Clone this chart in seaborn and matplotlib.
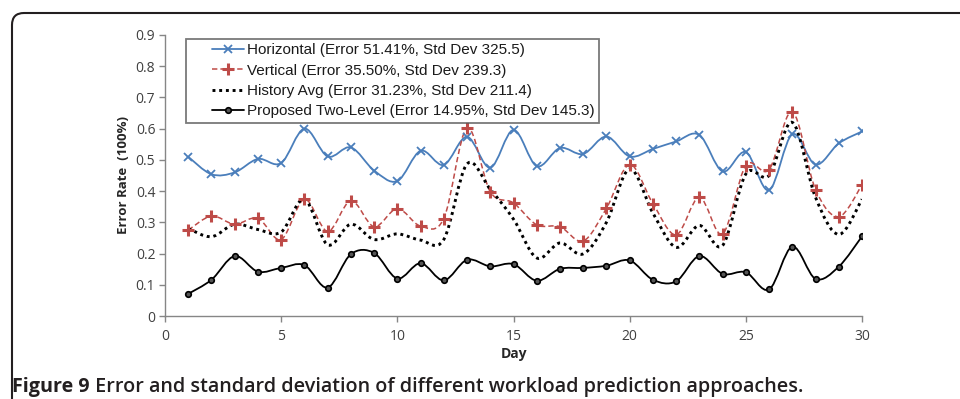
import numpy as np
import pandas as pd
import matplotlib
matplotlib.use("Agg")
import matplotlib.pyplot as plt
import seaborn as sns
from matplotlib.path import Path
from matplotlib.patches import PathPatch, FancyBboxPatch
from matplotlib.lines import Line2D
from matplotlib.legend_handler import HandlerLine2D

days = list(range(1, 31))
horizontal = [0.51, 0.454, 0.46, 0.503, 0.49, 0.60, 0.511, 0.54, 0.466, 0.432,
              0.529, 0.484, 0.574, 0.475, 0.596, 0.48, 0.538, 0.519, 0.575, 0.511,
              0.535, 0.559, 0.58, 0.463, 0.525, 0.403, 0.582, 0.485, 0.553, 0.591]
vertical = [0.275, 0.32, 0.294, 0.313, 0.245, 0.374, 0.271, 0.369, 0.286, 0.344,
            0.288, 0.312, 0.602, 0.398, 0.362, 0.292, 0.286, 0.24, 0.345, 0.485,
            0.36, 0.26, 0.38, 0.263, 0.482, 0.469, 0.654, 0.405, 0.318, 0.42]
history = [0.28, 0.254, 0.294, 0.277, 0.269, 0.374, 0.228, 0.294, 0.245, 0.263,
           0.243, 0.245, 0.487, 0.406, 0.31, 0.186, 0.234, 0.199, 0.30, 0.471,
           0.33, 0.22, 0.29, 0.226, 0.455, 0.45, 0.62, 0.38, 0.261, 0.374]
proposed = [0.071, 0.116, 0.192, 0.142, 0.154, 0.163, 0.091, 0.198, 0.202, 0.12,
            0.169, 0.114, 0.18, 0.159, 0.166, 0.113, 0.151, 0.154, 0.161, 0.178,
            0.116, 0.111, 0.192, 0.135, 0.14, 0.085, 0.222, 0.119, 0.158, 0.255]
labels = ["Horizontal (Error 51.41%, Std Dev 325.5)",
          "Vertical (Error 35.50%, Std Dev 239.3)",
          "History Avg (Error 31.23%, Std Dev 211.4)",
          "Proposed Two-Level (Error 14.95%, Std Dev 145.3)"]
x_ticks = [0, 5, 10, 15, 20, 25, 30]
y_ticks = [0, 0.1, 0.2, 0.3, 0.4, 0.5, 0.6, 0.7, 0.8, 0.9]

sns.set_theme(style="white")
plt.rcParams['font.family'] = ['Open Sans', 'DejaVu Sans']

W, H = 960, 399
fig = plt.figure(figsize=(W / 100, H / 100), dpi=100)
ax = fig.add_axes([165 / W, 1 - 316 / H, (862 - 165) / W, (316 - 35) / H])


def smooth_path(x, y):
    x = np.asarray(x, float)
    y = np.asarray(y, float)
    n = len(x)
    verts = [(x[0], y[0])]
    codes = [Path.MOVETO]
    for i in range(n - 1):
        p0 = i - 1 if i > 0 else i
        p3 = i + 2 if i + 2 < n else i + 1
        c1 = (x[i] + (x[i + 1] - x[p0]) / 6, y[i] + (y[i + 1] - y[p0]) / 6)
        c2 = (x[i + 1] - (x[p3] - x[i]) / 6, y[i + 1] - (y[p3] - y[i]) / 6)
        verts += [c1, c2, (x[i + 1], y[i + 1])]
        codes += [Path.CURVE4] * 3
    return Path(verts, codes)


blue = "#4a7ebb"
red = "#be4b48"
styles = [
    dict(vals=horizontal, color=blue, ls="-", lw=1.3, marker="x", ms=6, mew=1.3, mfc=blue),
    dict(vals=vertical, color=red, ls=(0, (3.5, 2)), lw=1.1, marker="+", ms=8, mew=2.2, mfc=red),
    dict(vals=history, color="black", ls=(0, (1, 1.3)), lw=2.1, marker=None, ms=0, mew=0, mfc="none"),
    dict(vals=proposed, color="black", ls="-", lw=1.3, marker="o", ms=4, mew=1.2, mfc="#555555"),
]

handles = []
for s, lab in zip(styles, labels):
    patch = PathPatch(smooth_path(days, s["vals"]), fill=False, edgecolor=s["color"],
                      linestyle=s["ls"], linewidth=s["lw"], zorder=2)
    ax.add_patch(patch)
    if s["marker"]:
        df = pd.DataFrame({"Day": days, "v": s["vals"]})
        sns.lineplot(data=df, x="Day", y="v", ax=ax, linestyle="", marker=s["marker"],
                     markersize=s["ms"], markeredgewidth=s["mew"], color=s["color"],
                     markeredgecolor=s["color"], markerfacecolor=s["mfc"], legend=False, zorder=3)
    handles.append(Line2D([], [], color=s["color"], linestyle=s["ls"], linewidth=s["lw"],
                          marker=s["marker"], markersize=s["ms"], markeredgewidth=s["mew"],
                          markerfacecolor=s["mfc"], markeredgecolor=s["color"]))

ax.set_xlim(0, 30)
ax.set_ylim(0, 0.9)
ax.set_xticks(x_ticks)
ax.set_yticks(y_ticks)
ax.set_xticklabels([str(t) for t in x_ticks])
ax.set_yticklabels(["0"] + [f"{t:.1f}" for t in y_ticks[1:]])
sns.despine(ax=ax)
for sp in ["left", "bottom"]:
    ax.spines[sp].set_color("#868686")
    ax.spines[sp].set_linewidth(1.0)
ax.tick_params(axis="both", which="both", direction="out", length=4, width=1.0,
               color="#868686", labelsize=10, labelcolor="#404040", pad=4)
ax.tick_params(axis="y", left=True, pad=3)
ax.tick_params(axis="x", bottom=True, pad=5)
ax.set_xlabel("Day", fontsize=10, fontweight="bold", color="#262626", labelpad=2.5)
ax.set_ylabel("Error Rate  (100%)", fontsize=9.5, fontweight="bold", color="#262626", labelpad=4)
ax.set_facecolor("white")
ax.grid(False)

leg_fs = 11
hmap = {h: HandlerLine2D(xpad=1.4) for h in handles}
leg = ax.legend(handles, labels, loc="upper left", bbox_to_anchor=(0.030, 0.986),
                prop={"family": ["Liberation Sans", "DejaVu Sans"], "size": leg_fs},
                frameon=True, fancybox=False, edgecolor="#595959",
                handlelength=3.55, handletextpad=0.2, borderpad=0.28, labelspacing=0.42,
                borderaxespad=0, handler_map=hmap)
leg.get_frame().set_linewidth(1.3)
for t in leg.get_texts():
    t.set_color("#1a1a1a")

frame = FancyBboxPatch((0.12, -1.0), 12, (H - 13) / 100 + 1.0,
                       boxstyle="round,pad=0,rounding_size=0.12",
                       transform=fig.dpi_scale_trans, fill=False,
                       edgecolor="#231f20", linewidth=1.5, zorder=0)
fig.patches.append(frame)

cap_fs = 14.2
t1 = fig.text(12 / W, 1 - 387 / H, "Figure 9", fontsize=cap_fs, fontweight="bold",
              color="#231f20", va="center", ha="left")
plt.annotate(" Error and standard deviation of different workload prediction approaches.",
             xy=(1, 0), xycoords=t1, va="bottom", ha="left", fontsize=cap_fs,
             fontweight="semibold", color="#231f20")

fig.savefig("out.png", dpi=100)
